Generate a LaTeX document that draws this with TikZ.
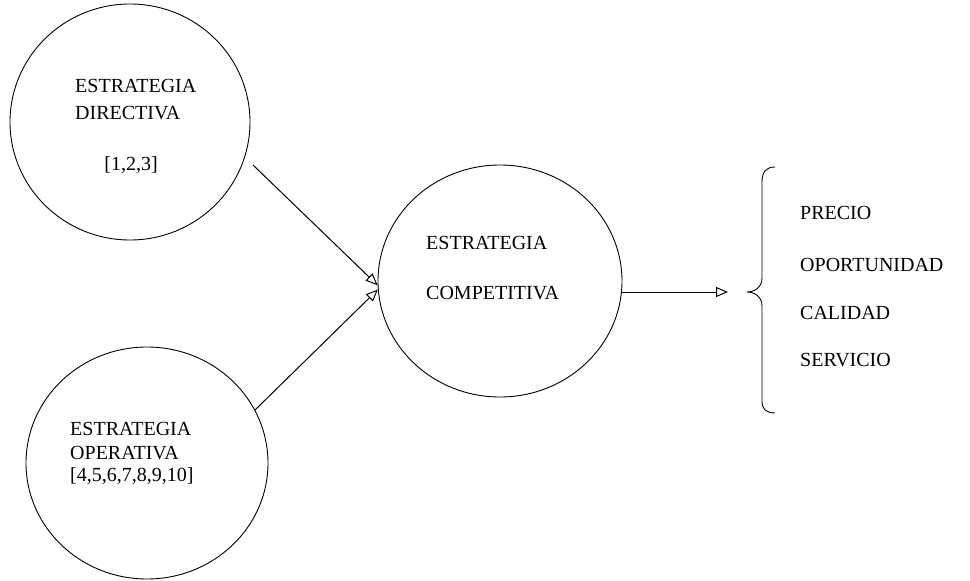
\documentclass[tikz,border=0pt]{standalone}
\usepackage{fontspec}
\setmainfont{Liberation Serif}
\usetikzlibrary{arrows.meta,shapes.geometric}
\begin{document}
\begin{tikzpicture}[x=1pt,y=-1pt,
  blob/.style={draw,ellipse,line width=0.9pt,inner sep=0pt},
  lbl/.style={font=\fontsize{20}{24}\selectfont,inner sep=0pt},
  conn/.style={line width=1pt,-{Triangle[open,length=12pt,width=10pt]}}]
\useasboundingbox (0,0) rectangle (970,581);
% circles
\node[blob,minimum width=240pt,minimum height=236pt] (dir) at (130,122) {};
\node[blob,minimum width=242pt,minimum height=232pt] (ope) at (147,463) {};
\node[blob,minimum width=244pt,minimum height=232pt] (comp) at (500,281) {};
% texts
\node[lbl,anchor=west] (t1) at (75,86) {ESTRATEGIA};
\node[lbl,anchor=west] (t2) at (75,113) {DIRECTIVA};
\node[lbl] (t3) at (131,165) {[1,2,3]};
\node[lbl,anchor=west] (b1) at (70,429) {ESTRATEGIA};
\node[lbl,anchor=west] (b2) at (70,453) {OPERATIVA};
\node[lbl,anchor=west] (b3) at (70,476) {[4,5,6,7,8,9,10]};
\node[lbl,anchor=west] (c1) at (426,243) {ESTRATEGIA};
\node[lbl,anchor=west] (c2) at (426,293) {COMPETITIVA};
\node[lbl,anchor=west] (p1) at (800,213) {PRECIO};
\node[lbl,anchor=west] (p2) at (800,265) {OPORTUNIDAD};
\node[lbl,anchor=west] (p3) at (800,313) {CALIDAD};
\node[lbl,anchor=west] (p4) at (800,360) {SERVICIO};
% connector ends
\coordinate (s1) at (253,165);
\coordinate (s2) at (255,410);
\coordinate (e3) at (728,292);
\draw[conn] (s1) -- (comp.182);
\draw[conn] (s2) -- (comp.184);
\draw[conn] (comp.east |- e3) -- (e3);
% brace
\draw[line width=0.9pt] (775,167) .. controls (766,167) and (762,172) .. (762,182)
  -- (762,278) .. controls (762,287) and (755,292) .. (747,292)
  .. controls (755,292) and (762,297) .. (762,306)
  -- (762,401) .. controls (762,409) and (766,413) .. (775,413);
\end{tikzpicture}
\end{document}
